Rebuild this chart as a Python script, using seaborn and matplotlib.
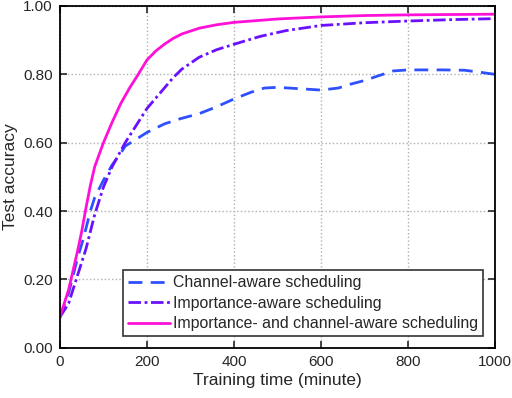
import numpy as np
import pandas as pd
import seaborn as sns
import matplotlib.pyplot as plt
from matplotlib.ticker import FormatStrFormatter

# Channel-aware scheduling
ch_time = [0, 20, 40, 54, 70, 80, 100, 120, 140, 150, 175, 200, 240, 276, 320, 360,
           400, 440, 470, 500, 550, 600, 640, 670, 700, 730, 766, 800, 880, 930, 966, 1000]
ch_acc = [0.09, 0.16, 0.26, 0.32, 0.40, 0.44, 0.49, 0.535, 0.57, 0.59, 0.61, 0.63, 0.655,
          0.67, 0.685, 0.705, 0.728, 0.748, 0.76, 0.762, 0.758, 0.754, 0.76, 0.772, 0.782,
          0.795, 0.81, 0.813, 0.813, 0.812, 0.806, 0.80]

# Importance-aware scheduling
imp_time = [0, 20, 40, 60, 80, 100, 120, 150, 175, 200, 230, 260, 280, 320, 360, 400,
            460, 520, 600, 700, 800, 900, 1000]
imp_acc = [0.09, 0.13, 0.21, 0.29, 0.39, 0.47, 0.53, 0.60, 0.65, 0.70, 0.745, 0.79,
           0.815, 0.85, 0.872, 0.888, 0.911, 0.928, 0.943, 0.951, 0.956, 0.96, 0.963]

# Importance- and channel-aware scheduling
both_time = [0, 20, 40, 50, 60, 70, 80, 100, 120, 140, 160, 180, 200, 220, 240, 260, 280,
             320, 360, 400, 450, 500, 600, 700, 800, 900, 1000]
both_acc = [0.09, 0.17, 0.28, 0.34, 0.41, 0.475, 0.53, 0.60, 0.66, 0.715, 0.76, 0.80,
            0.842, 0.868, 0.888, 0.905, 0.918, 0.935, 0.945, 0.952, 0.957, 0.962, 0.968,
            0.972, 0.974, 0.975, 0.976]

labels = ["Channel-aware scheduling", "Importance-aware scheduling",
          "Importance- and channel-aware scheduling"]

sns.set_style("ticks")
plt.rcParams['font.family'] = ['Liberation Sans', 'DejaVu Sans']

fig = plt.figure(figsize=(5.12, 3.98), dpi=100)
ax = fig.add_axes([0.117, 0.126, 0.850, 0.859])

sns.lineplot(x=ch_time, y=ch_acc, ax=ax, color='#2f50ff', lw=2,
             linestyle=(0, (5, 3)), label=labels[0])
sns.lineplot(x=imp_time, y=imp_acc, ax=ax, color='#6a10ff', lw=2,
             linestyle=(0, (4.5, 1.3, 1, 1.3)), label=labels[1])
sns.lineplot(x=both_time, y=both_acc, ax=ax, color='#ff10d8', lw=2,
             label=labels[2])

ax.set_xlim(0, 1000)
ax.set_ylim(0, 1)
ax.set_xticks(np.arange(0, 1001, 200))
ax.set_yticks(np.arange(0, 1.01, 0.2))
ax.yaxis.set_major_formatter(FormatStrFormatter('%.2f'))
ax.grid(True, linestyle=':', color='#b0b0b0', lw=1)
ax.tick_params(direction='in', top=True, right=True, labelsize=11, length=5,
               width=1.2, pad=5)
for s in ax.spines.values():
    s.set_linewidth(1.3)
    s.set_color('black')

ax.set_xlabel('Training time (minute)', fontsize=12.5, labelpad=3)
ax.set_ylabel('Test accuracy', fontsize=12.5, labelpad=3.5)

leg = ax.legend(loc='lower right', fontsize=11.4, frameon=True, fancybox=False,
                handlelength=2.65, handletextpad=0.2, borderaxespad=0.75,
                labelspacing=0.35, borderpad=0.3)
leg.get_frame().set_edgecolor('#333333')
leg.get_frame().set_linewidth(1.2)
leg.get_frame().set_alpha(1)

fig.savefig('out.png', dpi=100)
